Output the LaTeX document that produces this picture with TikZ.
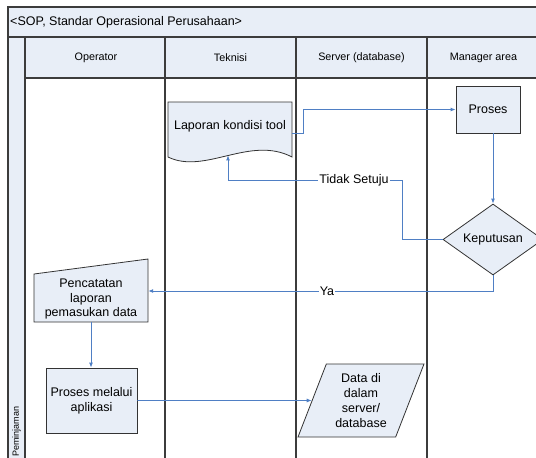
\documentclass[tikz,border=0pt]{standalone}
\usepackage{fontspec}
\setmainfont{Liberation Sans}
\usetikzlibrary{shapes.geometric,arrows.meta}
\definecolor{lbfill}{HTML}{E8EEF7}
\definecolor{framec}{HTML}{3C3C3C}
\definecolor{connc}{HTML}{4F7FC4}
\begin{document}
\begin{tikzpicture}[x=1pt,y=-1pt,
  lane/.style={draw=framec,line width=1.2pt},
  shp/.style={draw=black!80,fill=lbfill,line width=0.8pt},
  connector/.style={draw=connc,line width=0.9pt,-{Latex[length=5pt,width=4pt]}},
  nodetxt/.style={font=\fontsize{12.5}{14.7}\selectfont,align=center,inner sep=0pt},
  hdr/.style={font=\fontsize{10.8}{13}\selectfont,inner sep=0pt},
  lbl/.style={font=\fontsize{12.5}{14.7}\selectfont,fill=white,inner sep=1pt}
]
\useasboundingbox (0,0) rectangle (536,458);
% swimlane frame
\fill[lbfill] (8,7) rectangle (545,37);
\fill[lbfill] (25,37) rectangle (545,78);
\fill[lbfill] (8,37) rectangle (25,465);
\draw[lane] (545,7) -- (8,7) -- (8,465);
\draw[lane] (8,37) -- (545,37);
\draw[lane] (25,78) -- (545,78);
\draw[lane] (25,37) -- (25,465);
\foreach \x in {165,296,427} \draw[lane] (\x,37) -- (\x,465);
\node[anchor=west,font=\fontsize{12.5}{15}\selectfont,inner sep=0pt] (title) at (10,22) {<SOP, Standar Operasional Perusahaan>};
\node[hdr] (h1) at (96,58) {Operator};
\node[hdr] (h2) at (230.5,58) {Teknisi};
\node[hdr] (h3) at (361.5,58) {Server (database)};
\node[hdr] (h4) at (483.5,58) {Manager area};
\node[rotate=90,anchor=west,font=\fontsize{9}{11}\selectfont,inner sep=0pt] (lane1) at (16.5,457) {Peminjaman};
% document shape
\draw[shp] (168,102) -- (292,102) -- (292,157) .. controls (250,135) and (205,175) .. (168,157) -- cycle;
\node[nodetxt,minimum width=124,minimum height=48] (doc) at (230,126) {Laporan kondisi tool};
\coordinate (docb) at (228,155.4);
% process
\node[shp,nodetxt,minimum width=64,minimum height=47] (proses) at (488,109.5) {Proses};
% decision
\node[shp,diamond,aspect=1.4,nodetxt,minimum width=100,minimum height=71] (kep) at (493,239.5) {Keputusan};
% manual input
\draw[shp] (34,274) -- (148,259) -- (148,322) -- (34,322) -- cycle;
\node[nodetxt,minimum width=114,minimum height=46] (pen) at (91,299) {Pencatatan\\laporan\\pemasukan data};
% process 2
\node[shp,nodetxt,minimum width=91,minimum height=65] (pm) at (91.5,400.5) {Proses melalui\\aplikasi};
% data
\node[shp,trapezium,trapezium left angle=62,trapezium right angle=118,trapezium stretches body,minimum width=126,minimum height=73,nodetxt] (data) at (361,400.5) {Data di\\dalam\\server/\\database};
% connectors
\draw[connector] ([yshift=-7pt]doc.east) -- ++(11,0) |- (proses.west);
\draw[connector] (proses.south -| kep.north) -- (kep.north);
\coordinate (tsbend) at (402,180);
\draw[connector] (kep.west) -| (tsbend) -| (docb);
\node[lbl] (ts) at (354,180) {Tidak Setuju};
\draw[connector] (kep.south) |- ([yshift=8pt]pen.east);
\node[lbl] (ya) at (327,291) {Ya};
\draw[connector] (pen.south) -- (pen.south |- pm.north);
\draw[connector] (pm) -- (data);
\end{tikzpicture}
\end{document}
